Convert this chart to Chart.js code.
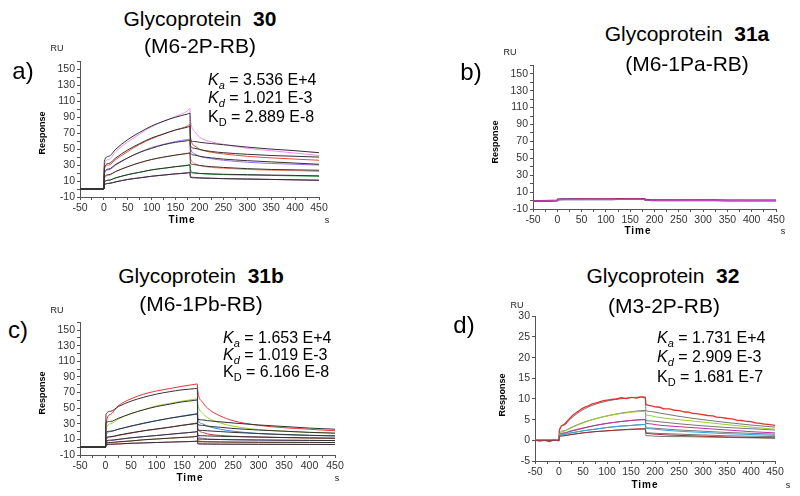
<!DOCTYPE html>
<html><head><meta charset="utf-8">
<script src="https://cdn.jsdelivr.net/npm/chart.js@4"></script>
<style>
body{margin:0;width:800px;height:496px;background:#fff;position:relative;overflow:hidden;font-family:"Liberation Sans",Arial,sans-serif;}
canvas{position:absolute;}
.t{position:absolute;white-space:nowrap;color:#000;line-height:1;}
.title{font-size:21px;transform:translate(-50%,-50%);}
.lbl{font-size:24px;transform:translate(-50%,-50%);}
.k{font-size:16px;transform:translateY(-50%);}
.k sub{font-size:11px;vertical-align:-4px;line-height:0;}
.ru{font-size:9px;transform:translate(-50%,-50%);color:#222;}
.resp{font-size:9px;font-weight:bold;transform:translate(-50%,-50%) rotate(-90deg);}
.time{font-size:10px;font-weight:bold;letter-spacing:1px;transform:translate(-50%,-50%);}
.s{font-size:9px;transform:translate(-50%,-50%);color:#222;}
</style></head>
<body>
<canvas id="ca"></canvas><canvas id="cb"></canvas><canvas id="cc"></canvas><canvas id="cd"></canvas>

<div class="t title" style="left:200px;top:18px">Glycoprotein&nbsp; <b>30</b></div>
<div class="t title" style="left:200px;top:45px">(M6-2P-RB)</div>
<div class="t title" style="left:687px;top:33px">Glycoprotein&nbsp; <b>31a</b></div>
<div class="t title" style="left:687px;top:63px">(M6-1Pa-RB)</div>
<div class="t title" style="left:201px;top:275px">Glycoprotein&nbsp; <b>31b</b></div>
<div class="t title" style="left:201px;top:303px">(M6-1Pb-RB)</div>
<div class="t title" style="left:663px;top:275px">Glycoprotein&nbsp; <b>32</b></div>
<div class="t title" style="left:664px;top:305px">(M3-2P-RB)</div>

<div class="t lbl" style="left:23px;top:71px">a)</div>
<div class="t lbl" style="left:471px;top:72px">b)</div>
<div class="t lbl" style="left:18px;top:330px">c)</div>
<div class="t lbl" style="left:464px;top:325px">d)</div>

<div class="t k" style="left:208px;top:80px"><i>K</i><sub><i>a</i></sub> = 3.536 E+4</div>
<div class="t k" style="left:208px;top:98px"><i>K</i><sub><i>d</i></sub> = 1.021 E-3</div>
<div class="t k" style="left:208px;top:117px">K<sub>D</sub> = 2.889 E-8</div>
<div class="t k" style="left:223px;top:338px"><i>K</i><sub><i>a</i></sub> = 1.653 E+4</div>
<div class="t k" style="left:223px;top:355px"><i>K</i><sub><i>d</i></sub> = 1.019 E-3</div>
<div class="t k" style="left:223px;top:372px">K<sub>D</sub> = 6.166 E-8</div>
<div class="t k" style="left:657px;top:338px"><i>K</i><sub><i>a</i></sub> = 1.731 E+4</div>
<div class="t k" style="left:657px;top:357px"><i>K</i><sub><i>d</i></sub> = 2.909 E-3</div>
<div class="t k" style="left:657px;top:377px">K<sub>D</sub> = 1.681 E-7</div>

<div class="t ru" style="left:57px;top:48px">RU</div>
<div class="t ru" style="left:510px;top:52px">RU</div>
<div class="t ru" style="left:57px;top:310px">RU</div>
<div class="t ru" style="left:517px;top:305px">RU</div>
<div class="t resp" style="left:42px;top:133px">Response</div>
<div class="t resp" style="left:495px;top:142px">Response</div>
<div class="t resp" style="left:42px;top:393px">Response</div>
<div class="t resp" style="left:502px;top:395px">Response</div>
<div class="t time" style="left:182px;top:220px">Time</div>
<div class="t time" style="left:638px;top:231px">Time</div>
<div class="t time" style="left:190px;top:478px">Time</div>
<div class="t time" style="left:645px;top:485px">Time</div>
<div class="t s" style="left:327px;top:220px">s</div>
<div class="t s" style="left:783px;top:231px">s</div>
<div class="t s" style="left:337px;top:478px">s</div>
<div class="t s" style="left:788px;top:485px">s</div>

<script>
// ---- time axes (s) ----
const timeCoarse = [-50,0,1,10,25,50,75,100,125,150,175,180,181,190,200,225,250,300,350,400,450];
const timeFine = [-50,-40,-30,-20,-10,0,1,10,20,30,40,50,60,70,80,90,100,110,120,130,140,150,160,170,180,181,190,200,210,220,230,240,250,260,270,280,290,300,310,320,330,340,350,360,370,380,390,400,410,420,430,440,450];

// ---- panel a: Glycoprotein 30 (RU) ----
const a1Data = [0,0,30,37,47,59,69,78,85,91,98,101,88,72,65,59,56,51,48,45,42];
const a1Fit  = [0,0,35,41,50,62,71,79,85,90,94,95,61,59.5,58.5,57,55.5,52.5,50,48,45.5];
const a2Data = [0,0,25,30,37,47,56,63,69,74,79,81,66,54,50,46,44,41,39,37.5,36];
const a2Fit  = [0,0,27,32,39,49,57,64,69,74,77.5,78.5,54,51,49.5,47,45.5,43.5,42,41,40];
const a3Data = [0,0,19,24,30,39,46,52,56,59.5,62,62.5,52,44,41,38,36,33.5,32,31,30];
const a3Fit  = [0,0,21,25,31,39,46,51,55.5,58.5,60.5,61,45,42.5,41,39,37.5,35.5,34,32.5,31];
const a4Data = [0,0,13,17,22,28,33,37,40,42.5,45,46,39,32,29.5,27,26,24.5,23.5,23,22];
const a4Fit  = [0,0,15,18,22,28,33,37,40,42.5,44.5,45,32,30.5,29.5,28,27,25.5,24.5,24,23.5];
const a5Data = [0,0,8,11,14,18,21,24,26,28,30,31,24,20.5,19.5,18.5,18,17.5,17,16.5,16];
const a5Fit  = [0,0,9,11,14,18,21,24,26,28,29.5,30,21,20,19.5,19,18.5,18,17.5,17,16.5];
const a6Data = [0,0,5,7,9,12,14,16,17.5,19,20.5,21,16,14.5,14,13.5,13,12.5,12,11.5,11];
const a6Fit  = [0,0,5,7,9,12,14,16,17.5,19,20,20.5,14.5,14,13.8,13.4,13,12.5,12,11.5,11];

// ---- panel b: Glycoprotein 31a ----
const b1Data = [-0.5,0,1.3,1.4,1.5,1.5,1.6,1.6,1.7,1.7,1.8,1.8,0.6,0.5,0.4,0.4,0.3,0.3,0.2,0.2,0.1];
const b2Data = [-0.5,0,1.6,1.7,1.8,1.9,1.9,2.0,2.0,2.1,2.1,2.1,0.7,0.6,0.6,0.5,0.5,0.4,0.4,0.3,0.3];
const b3Data = [-0.6,-0.1,1.0,1.1,1.2,1.2,1.3,1.3,1.3,1.4,1.4,1.4,0.4,0.3,0.3,0.2,0.2,0.1,0.1,0.0,0.0];

// ---- panel c: Glycoprotein 31b ----
const c1Data = [0,0,30,42,53,62,68,72,75,78,80.5,81,72,58,50,40,34,28,25,23,21];
const c1Fit  = [0,0,42,46,52,59,64,68,71,73.5,75,75.5,36,35,34,32.5,31,28.5,26.5,24.5,23];
const c2Data = [0,0,22,30,36,43,48,53,56,59,61.5,62,55,44,38,31,27,22.5,20.5,19,18];
const c2Fit  = [0,0,31,33,37,43,48,52,55,58,60,60.5,29,28,27,25.5,24,22,20.5,19,18];
const c3Data = [0,0,15,20,23,27,31,34,37,40,42.5,43,36,30,27,23,20.5,17.5,16,15,14.5];
const c3Fit  = [0,0,19,20.5,23,27,30.5,34,37,39.5,42,42.5,22,21.5,21,20,19,17.5,16.3,15.3,14.5];
const c4Data = [0,0,10,13,15,18,21,23,25.5,28,30.5,31,24,19,17,15,14,13,12.3,11.8,11.5];
const c4Fit  = [0,0,12,13.5,15.5,18.5,21,23.5,25.5,28,30,30.5,15,14.7,14.4,14,13.6,13,12.4,11.9,11.5];
const c5Data = [0,0,6,8.5,10,12,13.5,15,16.5,18,19.5,20,14,11.5,10.5,10,9.6,9.2,8.9,8.7,8.5];
const c5Fit  = [0,0,8,9,10,12,13.5,15,16.5,18,19.5,20,10.5,10.3,10.1,9.8,9.5,9.2,8.9,8.7,8.5];
const c6Data = [0,0,4,5.5,6.5,8,9.5,10.5,11.5,12.5,13.5,14,9,7.5,7,6.7,6.5,6.3,6.2,6.1,6];
const c6Fit  = [0,0,5.5,6,7,8,9.5,10.5,11.5,12.5,13.5,14,7,6.9,6.8,6.7,6.5,6.3,6.2,6.1,6];
const c7Data = [0,0,2.5,3.5,4,5,5.5,6,6.5,7,7.5,8,5,4.3,4.1,3.9,3.8,3.7,3.6,3.55,3.5];
const c7Fit  = [0,0,3.5,3.8,4.2,5,5.5,6,6.5,7,7.5,7.8,4.2,4.1,4,3.9,3.8,3.7,3.6,3.55,3.5];

// ---- panel d: Glycoprotein 32 ----
const d1Data = [0.1,-0.2,0.0,-0.3,0.1,-0.1,2.4,3.8,5.0,6.2,7.0,7.8,8.3,8.8,9.1,9.5,9.7,9.9,10.0,10.3,10.1,10.4,10.2,10.5,10.2,8.7,8.4,8.1,8.0,7.6,7.6,7.3,7.2,6.9,6.8,6.5,6.4,6.2,6.0,5.9,5.6,5.5,5.3,5.2,4.9,4.8,4.6,4.5,4.2,4.1,3.9,3.8,3.6];
const d1Fit  = [0,0,2.6,3.6,5.3,7.4,8.7,9.5,10.0,10.3,10.5,10.5,7.2,7.0,6.8,6.3,5.8,5.0,4.3,3.7,3.2];
const d2Data = [0,0,1.6,2.2,3.0,4.2,5.2,5.9,6.4,6.8,7.0,7.0,6.2,6.0,5.7,5.3,5.0,4.4,3.8,3.2,2.7];
const d2Fit  = [0,0,1.7,2.3,3.1,4.3,5.2,5.9,6.5,6.9,7.2,7.2,4.8,4.7,4.6,4.3,4.0,3.5,3.1,2.8,2.5];
const d3Data = [0,0,1.3,1.7,2.2,2.9,3.6,4.1,4.5,4.8,5.0,5.0,4.2,4.0,3.8,3.5,3.3,2.9,2.5,2.1,1.8];
const d3Fit  = [0,0,1.4,1.8,2.3,3.0,3.6,4.1,4.5,4.8,5.0,5.0,3.0,3.0,2.9,2.7,2.5,2.2,1.9,1.7,1.5];
const d4Data = [0,0,1.1,1.4,1.8,2.3,2.7,3.1,3.4,3.6,3.8,3.8,3.0,2.8,2.7,2.4,2.2,1.9,1.6,1.4,1.2];
const d4Fit  = [0,0,1.1,1.4,1.8,2.3,2.7,3.1,3.4,3.6,3.8,3.8,1.8,1.8,1.7,1.6,1.5,1.3,1.1,1.0,0.9];
const d5Data = [0,0,0.9,1.1,1.4,1.8,2.1,2.3,2.5,2.7,2.8,2.8,1.8,1.6,1.5,1.3,1.2,1.0,0.8,0.7,0.6];
const d5Fit  = [0,0,0.9,1.1,1.4,1.8,2.1,2.3,2.5,2.6,2.7,2.7,1.1,1.1,1.0,0.9,0.9,0.8,0.7,0.6,0.5];

// ---- tick label sets ----
const xTickLabels = [-50,0,50,100,150,200,250,300,350,400,450];
const yTickLabelsRU = [-10,10,30,50,70,90,110,130,150];
const yTickLabelsD = [-5,0,5,10,15,20,25,30];

function xy(xs, ys){ return xs.map((x,i)=>({x:x, y:ys[i]})); }
function ds(xs, ys, color, w){ return {data:xy(xs,ys), borderColor:color, borderWidth:w||1, pointRadius:0, fill:false, cubicInterpolationMode:'monotone'}; }

const FONT = '"Liberation Sans", Arial, sans-serif';
function makeChart(id, box, yMin, yMax, yStep, yLabels, datasets){
  const cv = document.getElementById(id);
  cv.width = box.w; cv.height = box.h;
  cv.style.left = box.x + 'px'; cv.style.top = box.y + 'px';
  const axisCol = '#555';
  new Chart(cv, {
    type:'line',
    data:{datasets:datasets},
    options:{
      responsive:false, animation:false, devicePixelRatio:1,
      layout:{padding:{left:0, top:8, right:14, bottom:0}},
      plugins:{legend:{display:false}, tooltip:{enabled:false}},
      scales:{
        x:{type:'linear', min:-50, max:450,
           afterFit:function(s){ s.height = 22; },
           ticks:{stepSize:25, autoSkip:false, maxRotation:0, padding:2, color:'#333', font:{size:10.5, family:FONT},
                  callback:function(v){ return xTickLabels.includes(v) ? String(v) : ''; }},
           grid:{drawOnChartArea:false, drawTicks:true, tickLength:3, color:axisCol},
           border:{color:axisCol}},
        y:{type:'linear', min:yMin, max:yMax,
           afterFit:function(s){ s.width = 40; },
           ticks:{stepSize:yStep, autoSkip:false, padding:2, color:'#333', font:{size:10.5, family:FONT},
                  callback:function(v){ return yLabels.includes(v) ? String(v) : ''; }},
           grid:{drawOnChartArea:false, drawTicks:true, tickLength:3, color:axisCol},
           border:{color:axisCol}}
      }
    }
  });
}

const FIT = '#333333';
makeChart('ca', {x:40, y:53, w:293, h:166}, -10, 160, 10, yTickLabelsRU, [
  ds(timeCoarse,a1Fit,FIT), ds(timeCoarse,a2Fit,FIT), ds(timeCoarse,a3Fit,FIT),
  ds(timeCoarse,a4Fit,FIT), ds(timeCoarse,a5Fit,FIT), ds(timeCoarse,a6Fit,FIT),
  ds(timeCoarse,a1Data,'#f28cf0'), ds(timeCoarse,a2Data,'#e0503c'), ds(timeCoarse,a3Data,'#9b6bf0'),
  ds(timeCoarse,a4Data,'#f08a70'), ds(timeCoarse,a5Data,'#20b030'), ds(timeCoarse,a6Data,'#8a3a9a')
]);
makeChart('cb', {x:493, y:57, w:297, h:174}, -10, 160, 10, yTickLabelsRU, [
  ds(timeCoarse,b3Data,'#c050c0'), ds(timeCoarse,b2Data,'#e03050'), ds(timeCoarse,b1Data,'#2030a0',2)
]);
makeChart('cc', {x:40, y:314, w:309, h:163}, -10, 160, 10, yTickLabelsRU, [
  ds(timeCoarse,c1Fit,FIT), ds(timeCoarse,c2Fit,FIT), ds(timeCoarse,c3Fit,FIT), ds(timeCoarse,c4Fit,FIT),
  ds(timeCoarse,c5Fit,FIT), ds(timeCoarse,c6Fit,FIT), ds(timeCoarse,c7Fit,FIT),
  ds(timeCoarse,c1Data,'#e8343c'), ds(timeCoarse,c2Data,'#9ccc3c'), ds(timeCoarse,c3Data,'#3c84dc'),
  ds(timeCoarse,c4Data,'#b8403c'), ds(timeCoarse,c5Data,'#a070d8'), ds(timeCoarse,c6Data,'#e0902c'),
  ds(timeCoarse,c7Data,'#d860b0')
]);
makeChart('cd', {x:495, y:308, w:294, h:175}, -5, 30, 5, yTickLabelsD, [
  ds(timeCoarse,d5Data,'#a03030'), ds(timeCoarse,d4Data,'#30a8e0'), ds(timeCoarse,d3Data,'#c0309c'),
  ds(timeCoarse,d2Data,'#9ccc30'), ds(timeFine,d1Data,'#e8302c',1.3),
  ds(timeCoarse,d1Fit,'#777'), ds(timeCoarse,d2Fit,'#777'), ds(timeCoarse,d3Fit,'#777'),
  ds(timeCoarse,d4Fit,'#777'), ds(timeCoarse,d5Fit,'#777')
]);
</script>
</body></html>
